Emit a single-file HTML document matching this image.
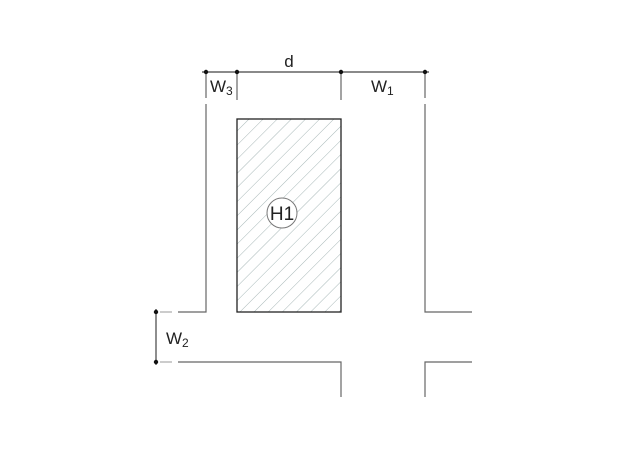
<!DOCTYPE html>
<html><head><style>body{margin:0;background:#fff}svg{display:block}</style></head><body>
<svg width="640" height="453" xmlns="http://www.w3.org/2000/svg" font-family="Liberation Sans, DejaVu Sans, sans-serif">
<defs>
<pattern id="h" patternUnits="userSpaceOnUse" width="10" height="10" patternTransform="rotate(45)">
<line x1="0" y1="0" x2="0" y2="10" stroke="#a8b8b8" stroke-width="1"/>
</pattern>
</defs>
<g stroke="#666" stroke-width="1.2" fill="none">
<!-- dimension line -->
<line x1="202" y1="72" x2="429" y2="72" stroke="#444"/>
<!-- extension lines -->
<line x1="206" y1="72" x2="206" y2="98"/>
<line x1="237" y1="72" x2="237" y2="100"/>
<line x1="341" y1="72" x2="341" y2="100"/>
<line x1="425" y1="72" x2="425" y2="98"/>
<!-- left wall -->
<polyline points="206,104 206,312 178,312"/>
<line x1="160" y1="312" x2="172" y2="312" stroke="#aaa"/>
<!-- right wall -->
<polyline points="425,104 425,312 472,312"/>
<!-- bottom -->
<polyline points="178,362 341,362 341,397"/>
<line x1="160" y1="362" x2="172" y2="362" stroke="#aaa"/>
<polyline points="472,362 425,362 425,397"/>
<!-- W2 dim -->
<line x1="156" y1="309" x2="156" y2="365" stroke="#444"/>
</g>
<rect x="237" y="119" width="104" height="193" fill="url(#h)" stroke="#222" stroke-width="1.3"/>
<circle cx="282" cy="213" r="15" fill="#fff" stroke="#777" stroke-width="1"/>
<text x="282" y="220" font-size="19" text-anchor="middle" fill="#222">H1</text>
<g fill="#111">
<circle cx="206" cy="72" r="2.2"/><circle cx="237" cy="72" r="2.2"/>
<circle cx="341" cy="72" r="2.2"/><circle cx="425" cy="72" r="2.2"/>
<circle cx="156" cy="312" r="2.2"/><circle cx="156" cy="362" r="2.2"/>
</g>
<g fill="#222" font-size="17">
<text x="289" y="67" text-anchor="middle">d</text>
<text x="210" y="92">W<tspan font-size="12" dy="3">3</tspan></text>
<text x="371" y="92">W<tspan font-size="12" dy="3">1</tspan></text>
<text x="166" y="344">W<tspan font-size="12" dy="3">2</tspan></text>
</g>
</svg>
</body></html>
